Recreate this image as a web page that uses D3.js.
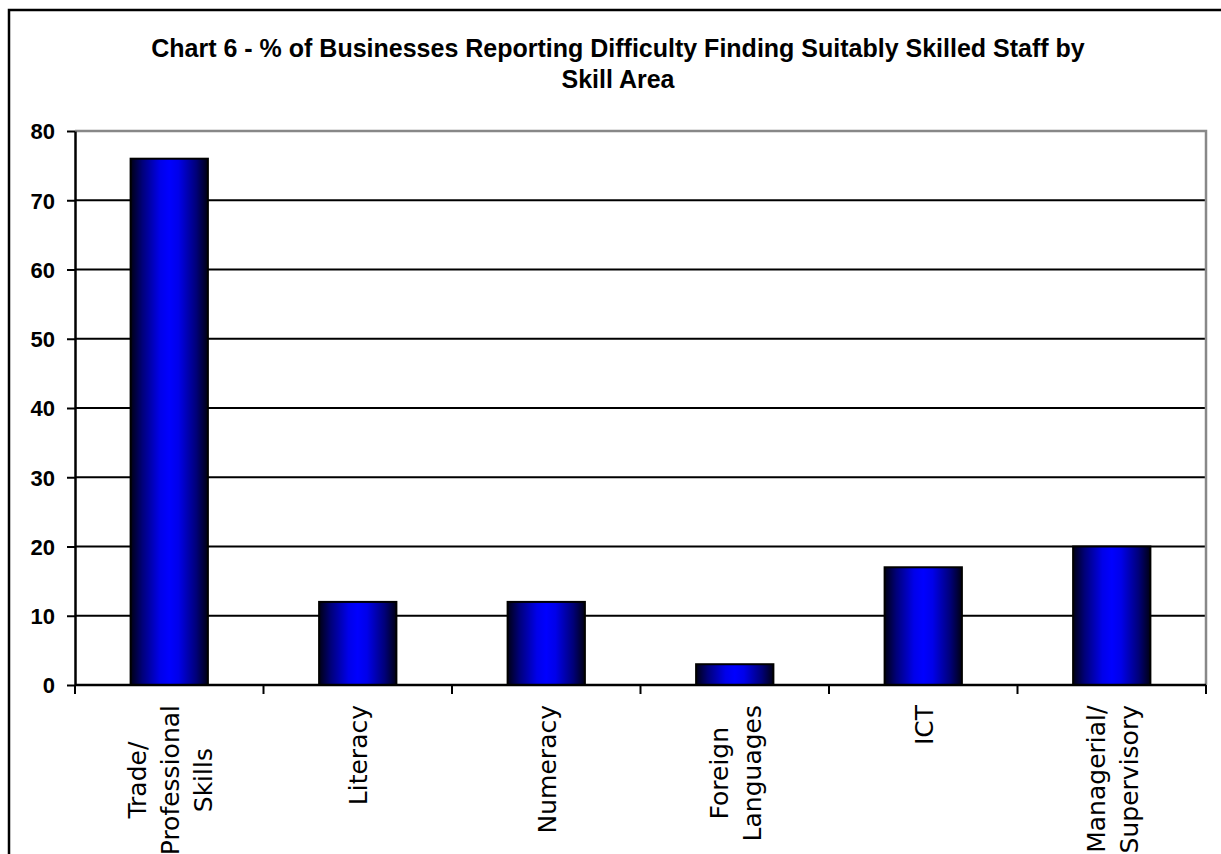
<!DOCTYPE html>
<html>
<head>
<meta charset="utf-8">
<script src="https://cdn.jsdelivr.net/npm/d3@7"></script>
<style>
  body { margin: 0; background: #fff; }
  svg { display: block; }
</style>
</head>
<body>
<svg id="chart" width="1221" height="854"></svg>
<script>
// Skill areas (line breaks mark wrapped label lines) and % of businesses
const categories = [
  "Trade/\nProfessional\nSkills",
  "Literacy",
  "Numeracy",
  "Foreign\nLanguages",
  "ICT",
  "Managerial/\nSupervisory"
];
const values = [76, 12, 12, 3, 17, 20];
const yTicks = [0, 10, 20, 30, 40, 50, 60, 70, 80];
const titleLines = [
  "Chart 6 - % of Businesses Reporting Difficulty Finding Suitably Skilled Staff by",
  "Skill Area"
];

const svg = d3.select("#chart");
const W = 1221, H = 854;
const plot = { left: 75, top: 131, right: 1206, bottom: 685 };

// outer chart frame
svg.append("rect")
  .attr("x", 9).attr("y", 10)
  .attr("width", W + 40).attr("height", H + 40)
  .attr("fill", "#fff").attr("stroke", "#000").attr("stroke-width", 2.5);

// bar fill: dark edges, bright blue centre
const grad = svg.append("defs").append("linearGradient")
  .attr("id", "barFill").attr("x1", "0%").attr("x2", "100%").attr("y1", "0%").attr("y2", "0%");
[[0, "#000014"], [0.15, "#000078"], [0.38, "#0000ea"], [0.5, "#0000ff"],
 [0.62, "#0000ea"], [0.85, "#000078"], [1, "#000014"]].forEach(([o, c]) =>
  grad.append("stop").attr("offset", o).attr("stop-color", c));

const x = d3.scaleBand().domain(categories).range([plot.left, plot.right]).padding(0);
const y = d3.scaleLinear().domain([0, 80]).range([plot.bottom, plot.top]);

// title
svg.append("g").selectAll("text").data(titleLines).join("text")
  .attr("x", 618).attr("y", (d, i) => 57 + i * 31)
  .attr("text-anchor", "middle")
  .style("font-family", "'Liberation Sans', Arial, sans-serif")
  .style("font-weight", "bold").style("font-size", "25px")
  .attr("fill", "#000")
  .text(d => d);

// horizontal gridlines
svg.append("g").selectAll("line").data(yTicks.filter(t => t > 0 && t < 80)).join("line")
  .attr("x1", plot.left).attr("x2", plot.right)
  .attr("y1", d => y(d)).attr("y2", d => y(d))
  .attr("stroke", "#000").attr("stroke-width", 2);

// plot-area border (top and right)
svg.append("path")
  .attr("d", `M${plot.left},${y(80)}H${plot.right}V${plot.bottom}`)
  .attr("fill", "none").attr("stroke", "#888").attr("stroke-width", 2.5);

// bars
const barW = x.bandwidth() * 0.41;
svg.append("g").selectAll("rect").data(values).join("rect")
  .attr("x", (d, i) => x(categories[i]) + (x.bandwidth() - barW) / 2)
  .attr("y", d => y(d))
  .attr("width", barW)
  .attr("height", d => y(0) - y(d))
  .attr("fill", "url(#barFill)")
  .attr("stroke", "#000").attr("stroke-width", 2);

// y axis
const yAxis = svg.append("g")
  .attr("transform", `translate(${plot.left},0)`)
  .call(d3.axisLeft(y).tickValues(yTicks).tickSize(8).tickSizeOuter(0).tickPadding(12));
yAxis.select(".domain").attr("stroke", "#000").attr("stroke-width", 2.5);
yAxis.selectAll(".tick line").attr("stroke", "#000").attr("stroke-width", 2);
yAxis.selectAll(".tick text")
  .style("font-family", "'Liberation Sans', Arial, sans-serif")
  .style("font-weight", "bold").style("font-size", "22px")
  .attr("fill", "#000").attr("dy", "0.36em");

// x axis line and category boundary ticks
const bounds = d3.range(categories.length + 1).map(i => plot.left + i * x.step());
svg.append("line")
  .attr("x1", plot.left).attr("x2", plot.right)
  .attr("y1", plot.bottom).attr("y2", plot.bottom)
  .attr("stroke", "#000").attr("stroke-width", 2.5);
svg.append("g").selectAll("line").data(bounds).join("line")
  .attr("x1", d => d).attr("x2", d => d)
  .attr("y1", plot.bottom).attr("y2", plot.bottom + 9)
  .attr("stroke", "#000").attr("stroke-width", 2);

// rotated category labels, lines centred within each block
const lineGap = 33, labelTop = 705;
const labelG = svg.append("g").selectAll("g").data(categories).join("g")
  .attr("transform", d => `translate(${x(d) + x.bandwidth() / 2},${labelTop}) rotate(-90)`);
labelG.each(function (d) {
  const g = d3.select(this);
  const lines = d.split("\n");
  const n = lines.length;
  const texts = g.selectAll("text").data(lines).join("text")
    .attr("y", (l, i) => (i - (n - 1) / 2) * lineGap + 9.5)
    .attr("text-anchor", "middle")
    .style("font-family", "'DejaVu Sans', Verdana, sans-serif")
    .style("font-size", "25px")
    .attr("fill", "#000")
    .text(l => l);
  const maxW = d3.max(texts.nodes(), t => t.getComputedTextLength());
  texts.attr("x", -maxW / 2);
});
</script>
</body>
</html>
